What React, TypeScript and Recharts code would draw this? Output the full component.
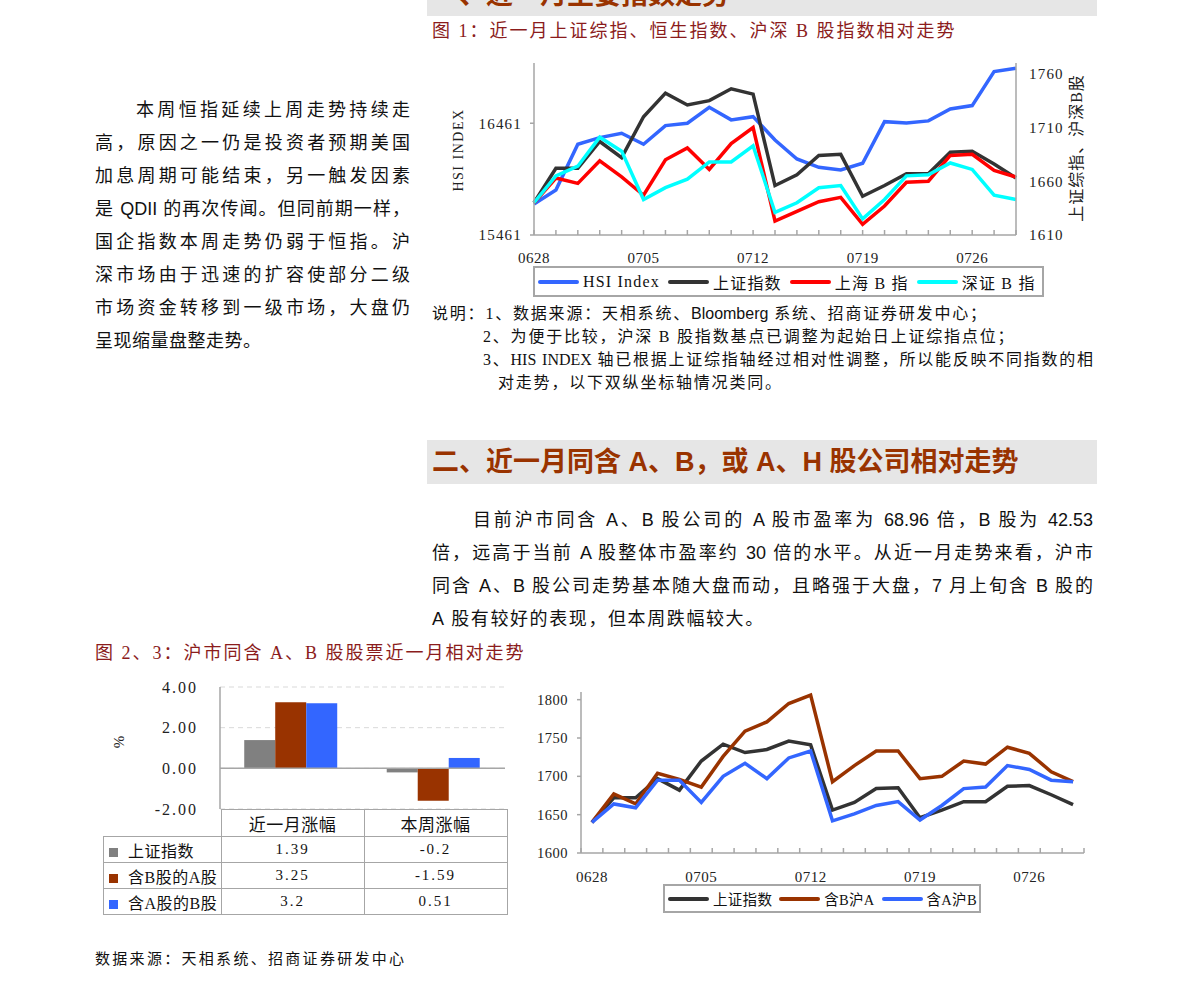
import React from 'react';
import { LineChart, Line, XAxis, YAxis, BarChart, Bar, CartesianGrid, ReferenceLine } from 'recharts';

// trading days, 28 Jun - 28 Jul
const tradeDates = [
  '0628', '0629', '0630', '0703', '0704', '0705', '0706', '0707', '0710', '0711', '0712', '0713',
  '0714', '0717', '0718', '0719', '0720', '0721', '0724', '0725', '0726', '0727', '0728'
];

const hsiIndex = [
  15738, 15864, 16273, 16332, 16371, 16273, 16440, 16461, 16604, 16491, 16520, 16311,
  16141, 16067, 16043, 16103, 16475, 16464, 16482, 16589, 16619, 16923, 16953
];
const shComposite = [
  1640, 1672, 1672, 1697, 1682, 1720, 1742, 1731, 1735, 1746, 1741, 1656,
  1666, 1684, 1685, 1646, 1656, 1667, 1667, 1687, 1688, 1676, 1663
];
const shBIndex = [
  1640, 1663, 1658, 1679, 1664, 1647, 1680, 1691, 1671, 1695, 1710, 1623,
  1632, 1641, 1645, 1620, 1637, 1659, 1660, 1684, 1685, 1670, 1664
];
const szBIndex = [
  1640, 1665, 1674, 1701, 1688, 1643, 1654, 1662, 1678, 1678, 1693, 1631,
  1640, 1654, 1656, 1625, 1643, 1665, 1666, 1677, 1671, 1647, 1643
];
// 含B沪A / 含A沪B
const aWithB = [
  1640, 1677, 1664, 1704, 1696, 1686, 1726, 1759, 1771, 1795, 1806, 1693,
  1714, 1733, 1733, 1697, 1700, 1720, 1716, 1738, 1730, 1706, 1693
];
const bWithA = [
  1640, 1664, 1659, 1695, 1695, 1666, 1700, 1717, 1697, 1724, 1733, 1642,
  1651, 1662, 1667, 1643, 1662, 1684, 1686, 1714, 1709, 1695, 1693
];

const changeCategories = ['近一月涨幅', '本周涨幅'];
const shChange = [1.39, -0.2];
const aShareChange = [3.25, -1.59];
const bShareChange = [3.2, 0.51];

const BLUE = '#3366ff';
const DARK = '#333333';
const RED = '#ff0000';
const CYAN = '#00ffff';
const BROWN = '#993300';
const GRAY = '#808080';
const AXIS = '#a6a6a6';
const SERIF = '"Liberation Serif", "Noto Sans CJK SC", serif';
const SANS = '"Liberation Sans", "Noto Sans CJK SC", sans-serif';

const indexData = tradeDates.map((date, i) => ({
  date,
  hsi: hsiIndex[i],
  sh: shComposite[i],
  shb: shBIndex[i],
  szb: szBIndex[i]
}));

const abData = tradeDates.map((date, i) => ({
  date,
  sh: shComposite[i],
  ab: aWithB[i],
  ba: bWithA[i]
}));

const changeData = changeCategories.map((name, i) => ({
  name,
  sh: shChange[i],
  a: aShareChange[i],
  b: bShareChange[i]
}));

const topSeries = [
  { key: 'hsi', name: 'HSI Index', color: BLUE, axis: 'hsi' },
  { key: 'sh', name: '上证指数', color: DARK, axis: 'sz' },
  { key: 'shb', name: '上海 B 指', color: RED, axis: 'sz' },
  { key: 'szb', name: '深证 B 指', color: CYAN, axis: 'sz' }
];
const abSeries = [
  { key: 'sh', name: '上证指数', color: DARK },
  { key: 'ab', name: '含B沪A', color: BROWN },
  { key: 'ba', name: '含A沪B', color: BLUE }
];
const changeSeries = [
  { key: 'sh', name: '上证指数', color: GRAY, values: shChange },
  { key: 'a', name: '含B股的A股', color: BROWN, values: aShareChange },
  { key: 'b', name: '含A股的B股', color: BLUE, values: bShareChange }
];

const leftLines = [
  '本周恒指延续上周走势持续走',
  '高，原因之一仍是投资者预期美国',
  '加息周期可能结束，另一触发因素',
  '是 QDII 的再次传闻。但同前期一样，',
  '国企指数本周走势仍弱于恒指。沪',
  '深市场由于迅速的扩容使部分二级',
  '市场资金转移到一级市场，大盘仍',
  '呈现缩量盘整走势。'
];
const abLines = [
  '目前沪市同含 A、B 股公司的 A 股市盈率为 68.96 倍，B 股为 42.53',
  '倍，远高于当前 A 股整体市盈率约 30 倍的水平。从近一月走势来看，沪市',
  '同含 A、B 股公司走势基本随大盘而动，且略强于大盘，7 月上旬含 B 股的',
  'A 股有较好的表现，但本周跌幅较大。'
];

const AB_STEP = 503 / 23;

const tickText = { fill: '#222', fontSize: 15, fontFamily: SERIF };

const TopDateTick = (props: any) => {
  const { x, y, payload } = props;
  const i = tradeDates.indexOf(payload.value);
  return (
    <g>
      <line x1={x} y1={y} x2={x} y2={y - 5} stroke={AXIS} strokeWidth={1.5} />
      {i % 5 === 0 && (
        <text x={x} y={y + 28} textAnchor="middle" {...tickText} style={{ letterSpacing: '0.5px' }}>
          {payload.value}
        </text>
      )}
    </g>
  );
};

const AbDateTick = (props: any) => {
  const { x, y, payload } = props;
  const i = tradeDates.indexOf(payload.value);
  const half = AB_STEP / 2;
  return (
    <g>
      <line x1={x - half} y1={y} x2={x - half} y2={y - 5} stroke={AXIS} strokeWidth={1.5} />
      {i === tradeDates.length - 1 && (
        <line x1={x + half} y1={y} x2={x + half} y2={y - 5} stroke={AXIS} strokeWidth={1.5} />
      )}
      {i % 5 === 0 && (
        <text x={x} y={y + 29} textAnchor="middle" {...tickText} style={{ letterSpacing: '0.5px' }}>
          {payload.value}
        </text>
      )}
    </g>
  );
};

const LegendBox = ({ items, left, top, width, height, fontSize, gap, spacing }: any) => (
  <div
    style={{
      position: 'absolute', left, top, width, height, boxSizing: 'border-box',
      border: `2px solid ${AXIS}`, display: 'flex', alignItems: 'center', paddingLeft: 3
    }}
  >
    {items.map((it: any) => (
      <div key={it.key} style={{ display: 'flex', alignItems: 'center', marginRight: gap }}>
        <span style={{ display: 'inline-block', width: 41, height: 4, borderRadius: 2, background: it.color, marginRight: 4 }} />
        <span style={{ fontSize, fontFamily: SERIF, letterSpacing: spacing, color: '#111', whiteSpace: 'nowrap' }}>
          {it.name}
        </span>
      </div>
    ))}
  </div>
);

const TextLines = ({ lines, left, top, width, lineHeight, fontSize, indent, lastSpacing }: any) => (
  <div style={{ position: 'absolute', left, top, width, fontSize, lineHeight: `${lineHeight}px`, fontFamily: SANS, color: '#111' }}>
    {lines.map((t: string, i: number) => {
      const last = i === lines.length - 1;
      return (
        <div
          key={i}
          style={{
            textAlign: last ? 'left' : 'justify',
            textAlignLast: last ? 'left' : 'justify',
            paddingLeft: i === 0 ? indent : 0,
            letterSpacing: last ? lastSpacing : 0
          } as React.CSSProperties}
        >
          {t}
        </div>
      );
    })}
  </div>
);

const rotated = (left: number, top: number): React.CSSProperties => ({
  position: 'absolute', left, top, transform: 'translate(-50%, -50%) rotate(-90deg)', whiteSpace: 'nowrap'
});

const noteStyle: React.CSSProperties = {
  position: 'absolute', fontSize: 16, fontFamily: SERIF, letterSpacing: '1.8px', color: '#111',
  lineHeight: '23px', whiteSpace: 'nowrap'
};

export default function App() {
  return (
    <div style={{ position: 'absolute', left: 0, top: 0, width: 1190, height: 990, background: '#fff', overflow: 'hidden' }}>
      {/* section 1 banner, cut at the top of the page */}
      <div style={{ position: 'absolute', left: 427, top: 0, width: 670, height: 16, background: '#e6e6e6', overflow: 'hidden' }}>
        <div style={{ position: 'absolute', left: 5, top: -18, fontSize: 27, lineHeight: '27px', fontWeight: 700, fontFamily: SANS, color: BROWN, whiteSpace: 'nowrap' }}>
          一、近一月主要指数走势
        </div>
      </div>
      <div style={{ position: 'absolute', left: 432, top: 20, fontSize: 18, lineHeight: '22px', fontFamily: SERIF, color: '#8b1c1c', letterSpacing: '2px', whiteSpace: 'nowrap' }}>
        图 1：近一月上证综指、恒生指数、沪深 B 股指数相对走势
      </div>

      <TextLines lines={leftLines} left={95} top={94} width={315} lineHeight={33} fontSize={18} indent={41} lastSpacing="0.5px" />

      {/* chart 1 */}
      <div style={{ position: 'absolute', left: 430, top: 55 }}>
        <LineChart width={680} height={210} data={indexData} margin={{ top: 8, right: 0, bottom: 0, left: 0 }}>
          <XAxis
            dataKey="date"
            interval={0}
            height={30}
            tickSize={0}
            tickMargin={0}
            tickLine={false}
            axisLine={{ stroke: AXIS, strokeWidth: 1.5 }}
            tick={(p: any) => <TopDateTick {...p} />}
          />
          <YAxis
            yAxisId="hsi"
            orientation="left"
            width={104}
            type="number"
            domain={[15461, 17000]}
            ticks={[15461, 16461]}
            allowDataOverflow
            interval={0}
            tickSize={4}
            tickMargin={8}
            axisLine={{ stroke: AXIS, strokeWidth: 1.5 }}
            tickLine={{ stroke: AXIS, strokeWidth: 1.5 }}
            tick={{ ...tickText, style: { letterSpacing: '1.2px' } }}
          />
          <YAxis
            yAxisId="sz"
            orientation="right"
            width={94}
            type="number"
            domain={[1610, 1770]}
            ticks={[1610, 1660, 1710, 1760]}
            allowDataOverflow
            interval={0}
            tickSize={0}
            tickMargin={13}
            axisLine={{ stroke: AXIS, strokeWidth: 1.5 }}
            tickLine={false}
            tick={{ ...tickText, style: { letterSpacing: '1.2px' } }}
          />
          {topSeries.map(s => (
            <Line
              key={s.key}
              yAxisId={s.axis}
              type="linear"
              dataKey={s.key}
              name={s.name}
              stroke={s.color}
              strokeWidth={3.5}
              dot={false}
              isAnimationActive={false}
            />
          ))}
        </LineChart>
      </div>
      <div style={{ ...rotated(459, 150), fontSize: 14, fontFamily: SERIF, letterSpacing: '1.5px', color: '#222' }}>HSI INDEX</div>
      <div style={{ ...rotated(1075, 148), fontSize: 16, fontFamily: SERIF, letterSpacing: '1px', color: '#222' }}>上证综指、沪深B股</div>
      <LegendBox items={topSeries} left={533} top={266} width={511} height={31} fontSize={16} gap={8} spacing="1.2px" />

      <div style={{ ...noteStyle, left: 432, top: 302 }}>
        说明：1、数据来源：天相系统、<span style={{ fontFamily: SANS, letterSpacing: 0 }}>Bloomberg</span> 系统、招商证券研发中心；
      </div>
      <div style={{ ...noteStyle, left: 483, top: 325 }}>2、为便于比较，沪深 B 股指数基点已调整为起始日上证综指点位；</div>
      <div style={{ ...noteStyle, left: 483, top: 348, width: 610, letterSpacing: 0, whiteSpace: 'normal', textAlign: 'justify', textAlignLast: 'justify' } as React.CSSProperties}>
        3、HIS INDEX 轴已根据上证综指轴经过相对性调整，所以能反映不同指数的相
      </div>
      <div style={{ ...noteStyle, left: 498, top: 371 }}>对走势，以下双纵坐标轴情况类同。</div>

      {/* section 2 banner */}
      <div style={{ position: 'absolute', left: 427, top: 440, width: 670, height: 44, background: '#e6e6e6' }}>
        <div style={{ position: 'absolute', left: 5, top: 6, fontSize: 27, lineHeight: '32px', fontWeight: 700, fontFamily: SANS, color: BROWN, whiteSpace: 'nowrap' }}>
          二、近一月同含 A、B，或 A、H 股公司相对走势
        </div>
      </div>

      <TextLines lines={abLines} left={432} top={504} width={661} lineHeight={33} fontSize={18} indent={41} lastSpacing="1.6px" />

      <div style={{ position: 'absolute', left: 95, top: 642, fontSize: 18, lineHeight: '22px', fontFamily: SERIF, color: '#8b1c1c', letterSpacing: '2px', whiteSpace: 'nowrap' }}>
        图 2、3：沪市同含 A、B 股股票近一月相对走势
      </div>

      {/* chart 2: change bars */}
      <div style={{ position: 'absolute', left: 100, top: 680 }}>
        <BarChart width={410} height={145} data={changeData} margin={{ top: 7, right: 5, bottom: 16, left: 0 }} barCategoryGap="17%" barGap={0}>
          <CartesianGrid vertical={false} stroke="#d9d9d9" strokeDasharray="5 4" />
          <XAxis dataKey="name" hide />
          <YAxis
            type="number"
            width={120}
            domain={[-2, 4]}
            ticks={[-2, 0, 2, 4]}
            interval={0}
            tickFormatter={(v: number) => v.toFixed(2)}
            tickSize={0}
            tickMargin={22}
            tickLine={false}
            axisLine={{ stroke: AXIS, strokeWidth: 1.5 }}
            tick={{ ...tickText, fontSize: 16, style: { letterSpacing: '2px' } }}
          />
          <ReferenceLine y={0} stroke={AXIS} strokeWidth={1.5} />
          {changeSeries.map(s => (
            <Bar key={s.key} dataKey={s.key} name={s.name} fill={s.color} isAnimationActive={false} />
          ))}
        </BarChart>
      </div>
      <div style={{ ...rotated(119, 742), fontSize: 15, fontFamily: SERIF, color: '#222' }}>%</div>

      <table style={{ position: 'absolute', left: 103, top: 809, borderCollapse: 'collapse', fontFamily: SERIF, color: '#111' }}>
        <tbody>
          <tr style={{ height: 27 }}>
            <td style={{ width: 117, padding: 0, border: 'none' }} />
            {changeCategories.map(c => (
              <td key={c} style={{ width: 142, padding: 0, border: `1.5px solid ${AXIS}`, textAlign: 'center', fontSize: 17, letterSpacing: '0.5px' }}>
                {c}
              </td>
            ))}
          </tr>
          {changeSeries.map(s => (
            <tr key={s.key} style={{ height: 26 }}>
              <td style={{ padding: 0, border: `1.5px solid ${AXIS}`, whiteSpace: 'nowrap' }}>
                <span style={{ display: 'inline-block', width: 9, height: 9, background: s.color, marginLeft: 5, marginRight: 10 }} />
                <span style={{ fontSize: 16, letterSpacing: '0.5px' }}>{s.name}</span>
              </td>
              {s.values.map((v, i) => (
                <td key={i} style={{ padding: 0, border: `1.5px solid ${AXIS}`, textAlign: 'center', fontSize: 15, letterSpacing: '2px' }}>
                  {String(v)}
                </td>
              ))}
            </tr>
          ))}
        </tbody>
      </table>

      {/* chart 3 */}
      <div style={{ position: 'absolute', left: 520, top: 685 }}>
        <LineChart width={580} height={200} data={abData} margin={{ top: 7, right: 16, bottom: 7, left: 0 }}>
          <XAxis
            dataKey="date"
            interval={0}
            height={25}
            padding={{ left: AB_STEP / 2, right: AB_STEP / 2 }}
            tickSize={0}
            tickMargin={0}
            tickLine={false}
            axisLine={{ stroke: AXIS, strokeWidth: 1.5 }}
            tick={(p: any) => <AbDateTick {...p} />}
          />
          <YAxis
            type="number"
            width={61}
            domain={[1600, 1810]}
            ticks={[1600, 1650, 1700, 1750, 1800]}
            allowDataOverflow
            interval={0}
            tickSize={4}
            tickMargin={9}
            axisLine={{ stroke: AXIS, strokeWidth: 1.5 }}
            tickLine={{ stroke: AXIS, strokeWidth: 1.5 }}
            tick={{ ...tickText, fontSize: 14.5, style: { letterSpacing: '0.5px' } }}
          />
          {abSeries.map(s => (
            <Line
              key={s.key}
              type="linear"
              dataKey={s.key}
              name={s.name}
              stroke={s.color}
              strokeWidth={3.5}
              dot={false}
              isAnimationActive={false}
            />
          ))}
        </LineChart>
      </div>
      <LegendBox items={abSeries} left={663} top={884} width={318} height={29} fontSize={14.5} gap={7} spacing="0.3px" />

      <div style={{ position: 'absolute', left: 95, top: 949, fontSize: 15, lineHeight: '20px', fontFamily: SERIF, letterSpacing: '2.3px', color: '#111', whiteSpace: 'nowrap' }}>
        数据来源：天相系统、招商证券研发中心
      </div>
    </div>
  );
}
